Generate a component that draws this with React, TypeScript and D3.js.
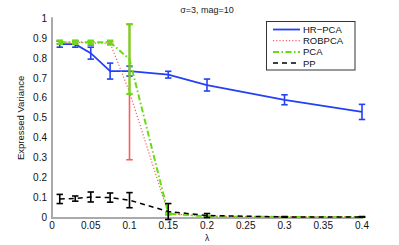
import React from "react";
import * as d3 from "d3";

const lambdas = [0.01, 0.03, 0.05, 0.075, 0.1, 0.15, 0.2, 0.3, 0.4];
const hrMean = [0.87, 0.87, 0.825, 0.735, 0.735, 0.717, 0.665, 0.591, 0.53];
const hrErr = [0.015, 0.015, 0.03, 0.04, 0.025, 0.017, 0.03, 0.025, 0.038];
const robMean = [0.88, 0.88, 0.875, 0.875, 0.63, 0.02, 0.005, 0.003, 0.003];
const robErr = [0.008, 0.008, 0.01, 0.008, 0.34, 0.005, 0.002, 0.001, 0.001];
const pcaMean = [0.88, 0.88, 0.88, 0.88, 0.795, 0.02, 0.005, 0.003, 0.003];
const pcaErr = [0.008, 0.008, 0.008, 0.008, 0.175, 0.005, 0.002, 0.001, 0.001];
const ppMean = [0.093, 0.095, 0.103, 0.1, 0.087, 0.03, 0.01, 0.003, 0.003];
const ppErr = [0.023, 0.013, 0.025, 0.023, 0.038, 0.04, 0.01, 0.001, 0.001];
const xTicks = [0, 0.05, 0.1, 0.15, 0.2, 0.25, 0.3, 0.35, 0.4];
const yTicks = [0, 0.1, 0.2, 0.3, 0.4, 0.5, 0.6, 0.7, 0.8, 0.9, 1];
const seriesNames = ["HR\u2212PCA", "ROBPCA", "PCA", "PP"];

const W = 399, H = 245;
const left = 52, right = 362, top = 18.3, bottom = 217.5;
const font = "'Liberation Sans', Arial, sans-serif";

export default function App() {
  const x = d3.scaleLinear().domain([0, 0.4]).range([left, right]);
  const y = d3.scaleLinear().domain([0, 1]).range([bottom, top]);
  const line = d3.line<[number, number]>().x(d => x(d[0])).y(d => y(d[1]));

  const series = [
    { name: seriesNames[0], mean: hrMean, err: hrErr, color: "#2440f5", width: 1.8, dash: "", bar: 1.6 },
    { name: seriesNames[1], mean: robMean, err: robErr, color: "#ff5a5a", width: 1.2, dash: "1.2,2", bar: 1.6 },
    { name: seriesNames[2], mean: pcaMean, err: pcaErr, color: "#66dd11", width: 2, dash: "6,2.5,1.5,2.5", bar: 2.2 },
    { name: seriesNames[3], mean: ppMean, err: ppErr, color: "#000000", width: 1.5, dash: "5,4", bar: 1.6 },
  ];

  const cap = 3.2;

  return (
    <svg width={W} height={H} style={{ position: "absolute", left: 0, top: 0 }} fontFamily={font}>
      <rect width={W} height={H} fill="#fff" />
      <text x={207} y={13} fontSize={9} textAnchor="middle" fill="#222">σ=3, mag=10</text>
      {/* axes */}
      <line x1={left} y1={top - 1} x2={left} y2={bottom + 0.5} stroke="#aaa" strokeWidth={2} />
      <line x1={left - 1} y1={bottom + 0.5} x2={right + 1} y2={bottom + 0.5} stroke="#aaa" strokeWidth={2} />
      {yTicks.map(t => (
        <text key={"y" + t} x={left - 5} y={y(t) + 3.5} fontSize={10} textAnchor="end" fill="#111">{String(t)}</text>
      ))}
      {xTicks.map(t => (
        <text key={"x" + t} x={x(t)} y={bottom + 11.5} fontSize={10} textAnchor="middle" fill="#111">{String(t)}</text>
      ))}
      <text x={207} y={241} fontSize={8.5} textAnchor="middle" fill="#111">λ</text>
      <text transform={`translate(24,${(top + bottom) / 2}) rotate(-90)`} fontSize={9.5} textAnchor="middle" fill="#111">Expressed Variance</text>
      {series.map(s => {
        const pts: [number, number][] = lambdas.map((l, i) => [l, s.mean[i]]);
        return (
          <g key={s.name}>
            <path d={line(pts) || ""} fill="none" stroke={s.color} strokeWidth={s.width} strokeDasharray={s.dash} />
            {lambdas.map((l, i) => {
              const cx = x(l);
              const y0 = y(s.mean[i] - s.err[i]);
              const y1 = y(s.mean[i] + s.err[i]);
              return (
                <g key={i} stroke={s.color} strokeWidth={s.bar}>
                  <line x1={cx} x2={cx} y1={y0} y2={y1} />
                  <line x1={cx - cap} x2={cx + cap} y1={y0} y2={y0} />
                  <line x1={cx - cap} x2={cx + cap} y1={y1} y2={y1} />
                </g>
              );
            })}
          </g>
        );
      })}
      {/* legend */}
      <rect x={266.5} y={21.5} width={88.5} height={48.5} fill="#fff" stroke="#333" strokeWidth={1} />
      {series.map((s, i) => {
        const ly = 29.5 + i * 11.2;
        return (
          <g key={"lg" + i}>
            <line x1={273} x2={300} y1={ly} y2={ly} stroke={s.color} strokeWidth={s.width} strokeDasharray={s.dash} />
            <text x={303} y={ly + 3.5} fontSize={9.5} fill="#111">{s.name}</text>
          </g>
        );
      })}
    </svg>
  );
}
